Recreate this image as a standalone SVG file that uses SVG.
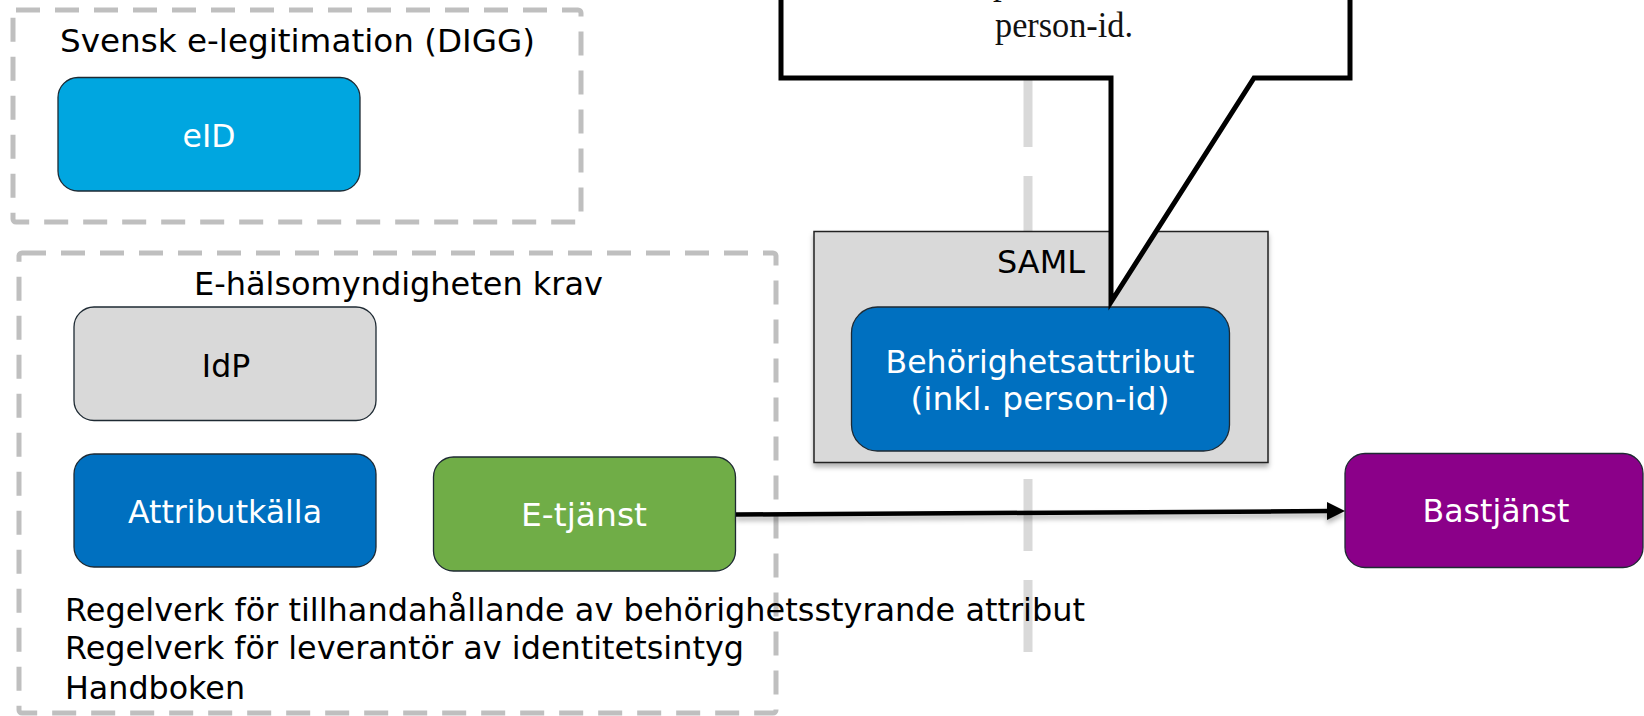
<svg xmlns="http://www.w3.org/2000/svg" width="1644" height="716" viewBox="0 0 1644 716">
<style>
.t{font-family:"DejaVu Sans",Verdana,sans-serif;font-size:31.5px}
.c{text-anchor:middle}
.w{fill:#fff}
.k{fill:#000}
.node{stroke:#1e2a33;stroke-width:1.3}
.grp{fill:none;stroke:#BFBFBF;stroke-width:5;stroke-dasharray:24 15}
.serif{font-family:"Liberation Serif","Times New Roman",serif;font-size:35px;fill:#111}
</style>
<defs>
<filter id="sh" x="-5%" y="-50%" width="110%" height="300%">
<feDropShadow dx="0" dy="4" stdDeviation="2.5" flood-color="#000" flood-opacity="0.3"/>
</filter>
</defs>
<rect width="1644" height="716" fill="#fff"/>

<line id="divider" x1="1028" y1="75" x2="1028" y2="655" stroke="#D9D9D9" stroke-width="9" stroke-dasharray="72 29"/>

<g id="group-digg">
<rect class="grp" x="13" y="10" width="568" height="212" rx="3"/>
<text class="t k" x="60" y="52" font-size="33" textLength="475" lengthAdjust="spacingAndGlyphs">Svensk e-legitimation (DIGG)</text>
</g>

<g id="group-ehm">
<rect class="grp" x="19" y="253" width="757" height="460" rx="3"/>
<text class="t k" x="194" y="295" textLength="409" lengthAdjust="spacingAndGlyphs">E-hälsomyndigheten krav</text>
</g>

<g id="eID">
<rect class="node" x="58" y="77.5" width="302" height="113.5" rx="20" fill="#00A6E0"/>
<text class="t c w" x="209" y="147">eID</text>
</g>

<g id="IdP">
<rect class="node" x="74" y="307" width="302" height="113.5" rx="20" fill="#D9D9D9"/>
<text class="t c k" x="226" y="377">IdP</text>
</g>

<g id="Attributkalla">
<rect class="node" x="74" y="454" width="302" height="113" rx="20" fill="#0070C0"/>
<text class="t c w" x="225" y="523" textLength="194" lengthAdjust="spacingAndGlyphs">Attributkälla</text>
</g>

<g id="Etjanst">
<rect class="node" x="433.5" y="457" width="302" height="114" rx="20" fill="#70AD47"/>
<text class="t c w" x="584" y="526" textLength="126" lengthAdjust="spacingAndGlyphs">E-tjänst</text>
</g>

<g id="SAML">
<rect x="814" y="231.5" width="454" height="231" fill="#D9D9D9" stroke="#222" stroke-width="1.5" filter="url(#sh)"/>
<text class="t c k" x="1041" y="273" textLength="88" lengthAdjust="spacingAndGlyphs">SAML</text>
</g>

<g id="Behorighetsattribut">
<rect class="node" x="851.5" y="307" width="378" height="144" rx="26" fill="#0070C0"/>
<text class="t c w" x="1040" y="373" textLength="309" lengthAdjust="spacingAndGlyphs">Behörighetsattribut</text>
<text class="t c w" x="1040" y="410" textLength="259" lengthAdjust="spacingAndGlyphs">(inkl. person-id)</text>
</g>

<g id="callout">
<path d="M781,-20 L1350,-20 L1350,78 L1254,78 L1111,302 L1111,78 L781,78 Z" fill="#fff" stroke="#000" stroke-width="5" stroke-linejoin="miter"/>
<text class="serif" x="993" y="-6">p</text>
<text class="serif" x="1064" y="37" text-anchor="middle" textLength="138" lengthAdjust="spacingAndGlyphs">person-id.</text>
</g>

<g id="Bastjanst">
<rect class="node" x="1345" y="453.5" width="298" height="114" rx="20" fill="#8B0089"/>
<text class="t c w" x="1496" y="522" textLength="147" lengthAdjust="spacingAndGlyphs">Bastjänst</text>
</g>

<g id="connectors" filter="url(#sh)">
<line x1="736" y1="514.5" x2="1330" y2="511.1" stroke="#000" stroke-width="4.5"/>
<polygon points="1327,502 1345,511 1327,520" fill="#000"/>
</g>

<g id="notes">
<text class="t k" x="65" y="621" textLength="1020" lengthAdjust="spacingAndGlyphs">Regelverk för tillhandahållande av behörighetsstyrande attribut</text>
<text class="t k" x="65" y="659" textLength="679" lengthAdjust="spacingAndGlyphs">Regelverk för leverantör av identitetsintyg</text>
<text class="t k" x="65" y="699" textLength="180" lengthAdjust="spacingAndGlyphs">Handboken</text>
</g>
</svg>
